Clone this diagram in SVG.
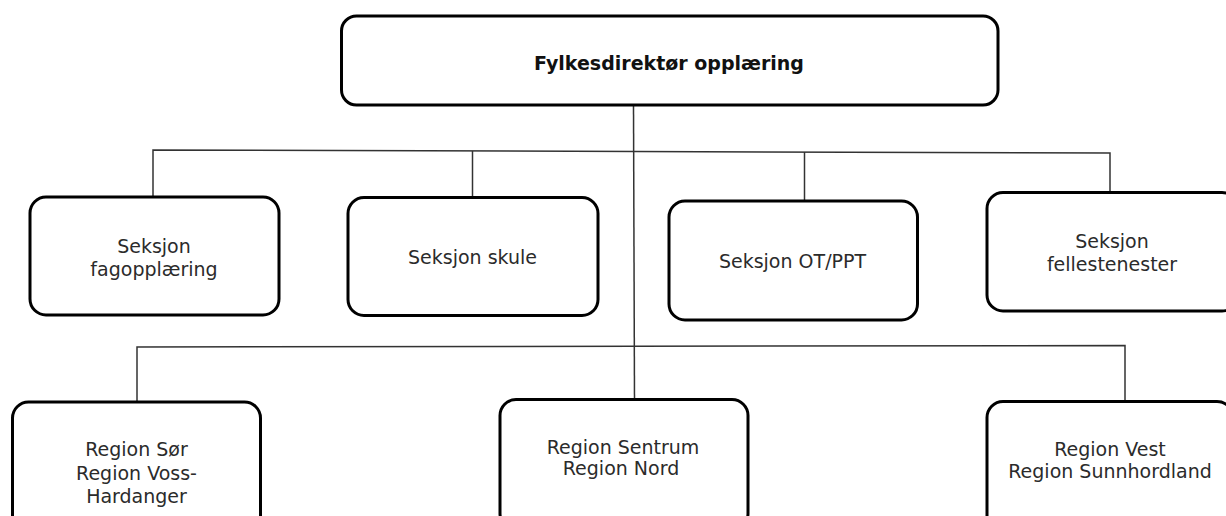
<svg xmlns="http://www.w3.org/2000/svg" width="1226" height="516" viewBox="0 0 1226 516">
<style>
.box{fill:#fff;stroke:#000;stroke-width:3}
.ln{stroke:#333;stroke-width:1.5;fill:none}
text{font-family:"DejaVu Sans","Verdana",sans-serif;font-size:19px;fill:#2b2b2b;text-anchor:middle}
.b{font-weight:bold;fill:#111}
</style>
<rect width="1226" height="516" fill="#fff"/>
<g id="connectors">
<path class="ln" d="M633.5 105 L634.5 400"/>
<path class="ln" d="M153 197 L153 150 L1110 153 L1110 192.5"/>
<path class="ln" d="M472.5 151 L472.5 197.5"/>
<path class="ln" d="M804.5 152 L804.5 201"/>
<path class="ln" d="M137 402 L137 347 L1125 345.5 L1125 401.5"/>
</g>
<g id="n-fylkesdirektor">
<rect class="box" x="341.5" y="16" width="656.5" height="89" rx="15"/>
<text class="b" x="669" y="69.5">Fylkesdirektør opplæring</text>
</g>
<g id="n-fagopplaering">
<rect class="box" x="30" y="197" width="249" height="118" rx="16"/>
<text x="154" y="253.3">Seksjon</text>
<text x="154" y="275.7">fagopplæring</text>
</g>
<g id="n-skule">
<rect class="box" x="348" y="197.5" width="250" height="118" rx="16"/>
<text x="472.5" y="264">Seksjon skule</text>
</g>
<g id="n-otppt">
<rect class="box" x="669" y="201" width="248.5" height="119" rx="16"/>
<text x="792.5" y="268">Seksjon OT/PPT</text>
</g>
<g id="n-fellestenester">
<rect class="box" x="987" y="192.5" width="251" height="118.5" rx="16"/>
<text x="1112" y="248.3">Seksjon</text>
<text x="1112" y="270.7">fellestenester</text>
</g>
<g id="n-region-sor">
<rect class="box" x="12.5" y="402" width="248" height="130" rx="16"/>
<text x="136.5" y="456">Region Sør</text>
<text x="136.5" y="480">Region Voss-</text>
<text x="136.5" y="502.7">Hardanger</text>
</g>
<g id="n-region-sentrum">
<rect class="box" x="500" y="399.5" width="248" height="130" rx="16"/>
<text x="623" y="454.3">Region Sentrum</text>
<text x="621" y="475.3">Region Nord</text>
</g>
<g id="n-region-vest">
<rect class="box" x="987" y="401.5" width="246" height="130" rx="16"/>
<text x="1110" y="456">Region Vest</text>
<text x="1110" y="478.3">Region Sunnhordland</text>
</g>
</svg>
